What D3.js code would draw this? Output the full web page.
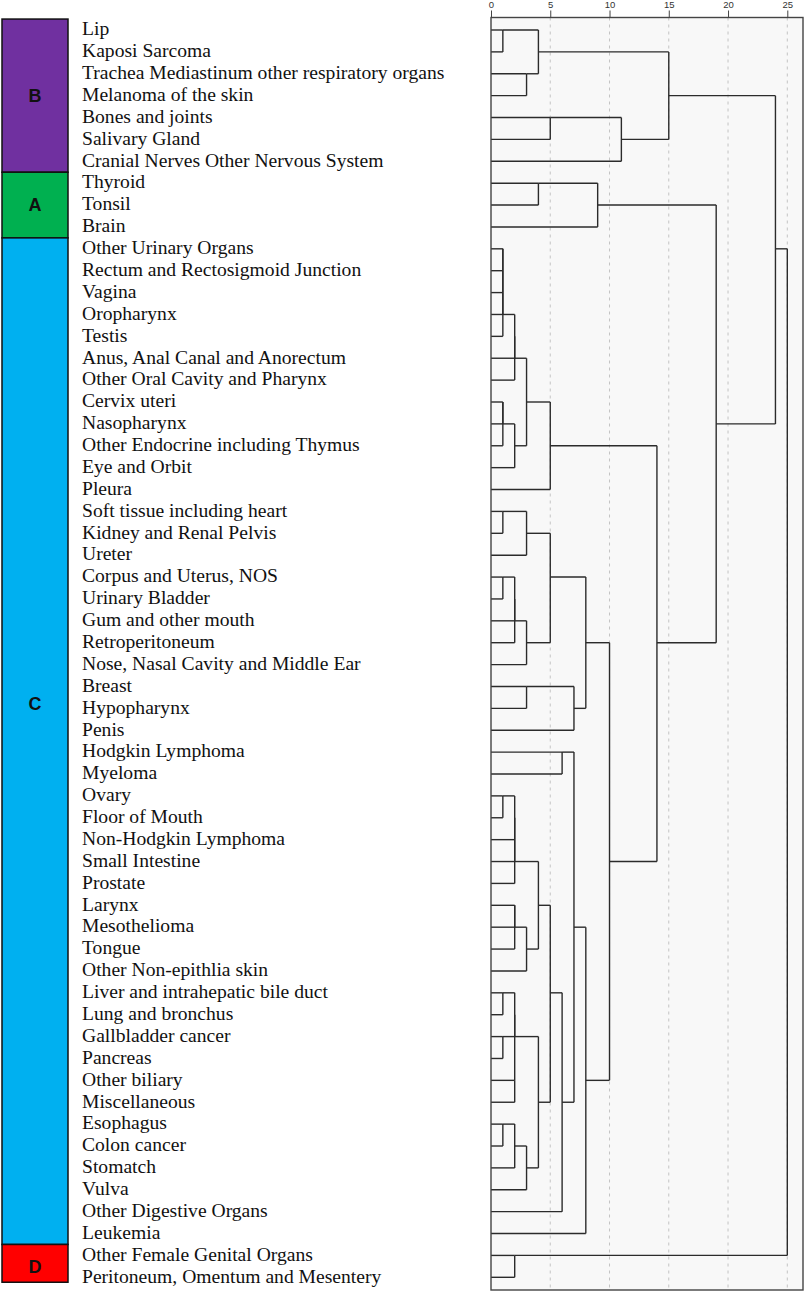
<!DOCTYPE html>
<html>
<head>
<meta charset="utf-8">
<script src="https://cdn.jsdelivr.net/npm/d3@7"></script>
<style>
  body { margin: 0; background: #fff; }
  svg { display: block; }
  .leaf { font-family: "Liberation Serif", "Times New Roman", serif; font-size: 19.6px; fill: #111; }
  .grp { font-family: "Liberation Sans", Arial, sans-serif; font-size: 18px; font-weight: bold; fill: #111; }
  .axis text { font-family: "Liberation Sans", Arial, sans-serif; font-size: 9.5px; fill: #333; }
  .axis line { stroke: #444; }
  .axis path { display: none; }
</style>
</head>
<body>
<div id="chart"></div>
<script>
const leaves = [
  "Lip", "Kaposi Sarcoma", "Trachea Mediastinum other respiratory organs", "Melanoma of the skin",
  "Bones and joints", "Salivary Gland", "Cranial Nerves Other Nervous System",
  "Thyroid", "Tonsil", "Brain",
  "Other Urinary Organs", "Rectum and Rectosigmoid Junction", "Vagina", "Oropharynx", "Testis",
  "Anus, Anal Canal and Anorectum", "Other Oral Cavity and Pharynx", "Cervix uteri", "Nasopharynx",
  "Other Endocrine including Thymus", "Eye and Orbit", "Pleura", "Soft tissue including heart",
  "Kidney and Renal Pelvis", "Ureter", "Corpus and Uterus, NOS", "Urinary Bladder",
  "Gum and other mouth", "Retroperitoneum", "Nose, Nasal Cavity and Middle Ear", "Breast",
  "Hypopharynx", "Penis", "Hodgkin Lymphoma", "Myeloma", "Ovary", "Floor  of Mouth",
  "Non-Hodgkin Lymphoma", "Small Intestine", "Prostate", "Larynx", "Mesothelioma", "Tongue",
  "Other Non-epithlia skin", "Liver and intrahepatic bile duct", "Lung and bronchus",
  "Gallbladder cancer", "Pancreas", "Other biliary", "Miscellaneous", "Esophagus",
  "Colon cancer", "Stomatch", "Vulva", "Other Digestive Organs", "Leukemia",
  "Other Female Genital Organs", "Peritoneum, Omentum and Mesentery"
];

const groups = ["B", "A", "C", "D"];
const groupFirst = [0, 7, 10, 56];
const groupLast = [6, 9, 55, 57];
const groupColors = ["#7030a0", "#00b050", "#00b0f0", "#ff0000"];

const ticks = [0, 5, 10, 15, 20, 25];

// agglomeration schedule: [cluster, cluster, rescaled distance]
// a cluster is named by its first leaf, as SPSS does
const schedule = [
  [0, 1, 1], [10, 11, 1], [10, 12, 1], [10, 13, 1], [10, 14, 1], [17, 18, 1], [17, 19, 1],
  [22, 23, 1], [25, 26, 1], [35, 36, 1], [44, 45, 1], [46, 47, 1], [50, 51, 1],
  [10, 15, 2], [10, 16, 2], [17, 20, 2], [25, 27, 2], [25, 28, 2], [35, 37, 2], [35, 38, 2],
  [35, 39, 2], [40, 41, 2], [40, 42, 2], [48, 49, 2], [44, 46, 2], [44, 48, 2], [50, 52, 2],
  [56, 57, 2],
  [2, 3, 3], [10, 17, 3], [22, 24, 3], [25, 29, 3], [30, 31, 3], [40, 43, 3], [50, 53, 3],
  [0, 2, 4], [7, 8, 4], [35, 40, 4], [44, 50, 4],
  [4, 5, 5], [10, 21, 5], [22, 25, 5], [35, 44, 5],
  [33, 34, 6], [35, 54, 6],
  [30, 32, 7], [33, 35, 7],
  [22, 30, 8], [33, 55, 8],
  [7, 9, 9],
  [22, 33, 10],
  [4, 6, 11],
  [10, 22, 14],
  [0, 4, 15],
  [7, 10, 19],
  [0, 7, 24],
  [0, 56, 25]
];

const width = 804;
const height = 1291;
const plot = { left: 491, right: 803, top: 17.5, bottom: 1290 };

// build the tree; a merged cluster sits on the row half way between its parts
const nodes = leaves.map((name, i) => ({ name, row: i, h: 0 }));
schedule.forEach(([a, b, h]) => {
  const p = nodes[Math.min(a, b)], q = nodes[Math.max(a, b)];
  nodes[Math.min(a, b)] = { children: [p, q], h, row: Math.floor((p.row + q.row) / 2) };
});
const root = d3.hierarchy(nodes[0]);

const x = d3.scaleLinear().domain([0, 25]).range([plot.left, 787.3]);
const y = d3.scaleLinear().domain([0, leaves.length - 1]).range([30, 1277.3]);
const step = y(1) - y(0);

const svg = d3.select('#chart').append('svg')
  .attr('width', width)
  .attr('height', height);

// group boxes, edge to edge
const gb = svg.append('g').attr('class', 'groups');
gb.selectAll('rect')
  .data(groups)
  .enter()
  .append('rect')
    .attr('x', 2)
    .attr('width', 66)
    .attr('y', (d, i) => y(groupFirst[i]) - step / 2)
    .attr('height', (d, i) => y(groupLast[i]) - y(groupFirst[i]) + step - (i === groups.length - 1 ? 6 : 0))
    .attr('fill', (d, i) => groupColors[i])
    .attr('stroke', '#111')
    .attr('stroke-width', 1.5);

const letterShift = { C: -37 };
gb.selectAll('text')
  .data(groups)
  .enter()
  .append('text')
    .attr('class', 'grp')
    .attr('x', 35)
    .attr('y', (d, i) => (y(groupFirst[i]) + y(groupLast[i])) / 2 + (letterShift[d] || 0))
    .attr('dy', '0.35em')
    .attr('text-anchor', 'middle')
    .text(d => d);

// leaf labels
svg.append('g')
  .selectAll('text')
  .data(leaves)
  .enter()
  .append('text')
    .attr('class', 'leaf')
    .attr('x', 82)
    .attr('y', (d, i) => y(i))
    .attr('dy', '0.27em')
    .text(d => d);

// plot frame
svg.append('rect')
  .attr('x', plot.left)
  .attr('y', plot.top)
  .attr('width', plot.right - plot.left)
  .attr('height', plot.bottom - plot.top)
  .attr('fill', '#f8f8f8')
  .attr('stroke', 'none');

svg.append('g')
  .selectAll('line')
  .data(ticks.filter(t => t > 0))
  .enter()
  .append('line')
    .attr('x1', d => x(d))
    .attr('x2', d => x(d))
    .attr('y1', plot.top)
    .attr('y2', plot.bottom)
    .attr('stroke', '#c4c4c4')
    .attr('stroke-dasharray', '3,4');

svg.append('g')
  .attr('class', 'axis')
  .attr('transform', `translate(0,${plot.top})`)
  .call(d3.axisTop(x).tickValues(ticks).tickSize(7).tickPadding(3));

// dendrogram
const g = svg.append('g')
  .attr('fill', 'none')
  .attr('stroke', '#2b2b2b')
  .attr('stroke-width', 1.4);

g.selectAll('.h')
  .data(root.descendants().filter(d => d.parent))
  .enter()
  .append('line')
    .attr('x1', d => x(d.data.h))
    .attr('x2', d => x(d.parent.data.h))
    .attr('y1', d => y(d.data.row))
    .attr('y2', d => y(d.data.row));

g.selectAll('.v')
  .data(root.descendants().filter(d => d.children))
  .enter()
  .append('line')
    .attr('x1', d => x(d.data.h))
    .attr('x2', d => x(d.data.h))
    .attr('y1', d => y(d.children[0].data.row))
    .attr('y2', d => y(d.children[1].data.row));

svg.append('rect')
  .attr('x', plot.left)
  .attr('y', plot.top)
  .attr('width', plot.right - plot.left)
  .attr('height', plot.bottom - plot.top)
  .attr('fill', 'none')
  .attr('stroke', '#444')
  .attr('stroke-width', 1.4);
</script>
</body>
</html>
